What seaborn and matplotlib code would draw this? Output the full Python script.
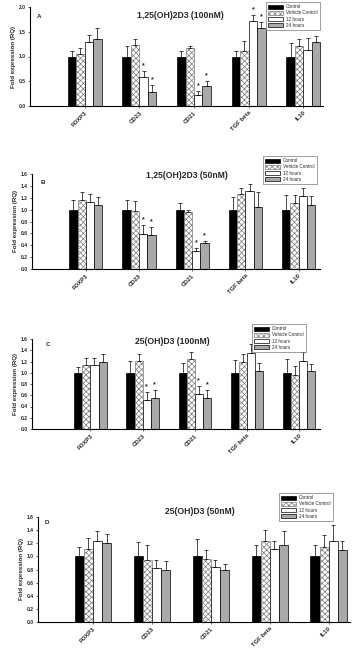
import numpy as np
import pandas as pd
import matplotlib
matplotlib.use('Agg')
import matplotlib.pyplot as plt
import seaborn as sns

genes = ['FOXP3', 'CD23', 'CD21', 'TGF beta', 'IL10']
groups = ['Control', 'Vehicle Control', '12 hours', '24 hours']

# rows = genes, columns = groups
a_mean = [[1.0, 1.05, 1.30, 1.35], [1.0, 1.23, 0.58, 0.28], [1.0, 1.17, 0.22, 0.40],
          [1.0, 1.12, 1.71, 1.58], [1.0, 1.21, 1.14, 1.29]]
a_err = [[0.11, 0.12, 0.13, 0.23], [0.21, 0.12, 0.13, 0.14], [0.11, 0.05, 0.08, 0.10],
         [0.11, 0.20, 0.13, 0.12], [0.27, 0.14, 0.24, 0.13]]
b_mean = [[1.0, 1.17, 1.13, 1.08], [1.0, 0.97, 0.59, 0.57], [1.0, 0.955, 0.31, 0.43],
          [1.0, 1.26, 1.31, 1.05], [1.0, 1.12, 1.23, 1.08]]
b_err = [[0.16, 0.12, 0.13, 0.14], [0.17, 0.17, 0.15, 0.14], [0.12, 0.035, 0.04, 0.04],
         [0.22, 0.11, 0.13, 0.25], [0.25, 0.12, 0.14, 0.15]]
c_mean = [[1.0, 1.13, 1.13, 1.19], [1.0, 1.21, 0.51, 0.56], [1.0, 1.24, 0.62, 0.55],
          [1.0, 1.20, 1.355, 1.04], [1.0, 0.96, 1.21, 1.03]]
c_err = [[0.11, 0.14, 0.14, 0.14], [0.21, 0.13, 0.15, 0.13], [0.18, 0.13, 0.14, 0.14],
         [0.22, 0.13, 0.165, 0.13], [0.24, 0.16, 0.16, 0.12]]
d_mean = [[1.0, 1.12, 1.23, 1.21], [1.0, 0.94, 0.82, 0.79], [1.0, 0.96, 0.84, 0.80],
          [1.0, 1.24, 1.11, 1.17], [1.0, 1.15, 1.24, 1.09]]
d_err = [[0.15, 0.16, 0.15, 0.13], [0.22, 0.23, 0.13, 0.14], [0.27, 0.13, 0.11, 0.09],
         [0.17, 0.16, 0.13, 0.21], [0.17, 0.18, 0.24, 0.14]]

# significant (gene, group) pairs
a_sig = [('CD23', '12 hours'), ('CD23', '24 hours'), ('CD21', '12 hours'), ('CD21', '24 hours'),
         ('TGF beta', '12 hours'), ('TGF beta', '24 hours')]
b_sig = a_sig[:4]
c_sig = a_sig[:4]
d_sig = []

titles = ['1,25(OH)2D3 (100nM)', '1,25(OH)2D3 (50nM)', '25(OH)D3 (100nM)', '25(OH)D3 (50nM)']
letters = ['A', 'B', 'C', 'D']

sns.set_style('white')
plt.rcParams['font.family'] = ['Liberation Sans', 'DejaVu Sans']
plt.rcParams['hatch.linewidth'] = 0.5

W, H = 354, 648
fig = plt.figure(figsize=(W / 100, H / 100), dpi=100)

def rect(l, t, r, b):
    return [l / W, 1 - b / H, (r - l) / W, (b - t) / H]

# pixel boxes: axes (l, t, r, b), xlim, title pos, letter pos, legend top-left
panels = [
    dict(mean=a_mean, err=a_err, sig=a_sig, box=(30, 7, 323, 106), xlim=(-1.0, 4.36),
         ymax=2.0, ystep=0.5, title=(180, 15), letter=(39, 16), leg=(266, 2)),
    dict(mean=b_mean, err=b_err, sig=b_sig, box=(32, 174, 320, 269), xlim=(-1.01, 4.4),
         ymax=1.6, ystep=0.2, title=(187, 175), letter=(43, 182), leg=(263, 156)),
    dict(mean=c_mean, err=c_err, sig=c_sig, box=(32, 339, 320, 429), xlim=(-1.12, 4.4),
         ymax=1.6, ystep=0.2, title=(172, 341), letter=(48, 344), leg=(252, 324)),
    dict(mean=d_mean, err=d_err, sig=d_sig, box=(38, 517, 350, 622), xlim=(-0.93, 4.36),
         ymax=1.6, ystep=0.2, title=(200, 512), letter=(47, 523), leg=(279, 493)),
]

palette = ['black', 'white', 'white', '#a9a9a9']

for i, p in enumerate(panels):
    ax = fig.add_axes(rect(*p['box']))
    rows = []
    for gi, g in enumerate(genes):
        for hi, h in enumerate(groups):
            rows.append({'gene': g, 'group': h, 'value': p['mean'][gi][hi], 'err': p['err'][gi][hi]})
    df = pd.DataFrame(rows)
    sns.barplot(data=df, x='gene', y='value', hue='group', order=genes, hue_order=groups,
                palette=palette, width=0.62, errorbar=None, edgecolor='black',
                linewidth=0.5, legend=False, ax=ax)
    bar_conts = list(ax.containers)
    for hi, cont in enumerate(bar_conts):
        xs, ys, es = [], [], []
        for gi, bar in enumerate(cont.patches):
            if hi == 1:
                bar.set_hatch('xxxxxx')
                bar.set_edgecolor('#7a7a7a')
            x = bar.get_x() + bar.get_width() / 2
            y = bar.get_height()
            e = p['err'][gi][hi]
            xs.append(x); ys.append(y); es.append(e)
            if (genes[gi], groups[hi]) in p['sig']:
                ax.text(x, y + e + 0.02 * p['ymax'], '*', ha='center', va='bottom',
                        fontsize=5, fontweight='bold')
        ax.errorbar(xs, ys, yerr=[np.zeros(len(es)), es], fmt='none', ecolor='black',
                    elinewidth=0.5, capsize=1.3, capthick=0.5)
    ax.set_xlim(*p['xlim'])
    ax.set_ylim(0, p['ymax'])
    ticks = np.arange(0, p['ymax'] + 0.001, p['ystep'])
    ax.set_yticks(ticks)
    ax.set_yticklabels(['%.1f' % v for v in ticks], fontsize=3.6, fontweight='bold')
    ax.set_xticks(range(len(genes)))
    ax.set_xticklabels(genes, rotation=45, ha='right', rotation_mode='anchor',
                       fontsize=4.3, fontweight='bold')
    ax.tick_params(axis='both', length=1.5, width=0.5, pad=1.5, direction='out',
                   bottom=True, left=True)
    ax.set_xlabel('')
    ax.set_ylabel('Fold expression (RQ)', fontsize=4.4, fontweight='bold', labelpad=2)
    sns.despine(ax=ax)
    for s in ['left', 'bottom']:
        ax.spines[s].set_linewidth(0.8)
        ax.spines[s].set_color('black')

    tx, ty = p['title']
    fig.text(tx / W, 1 - ty / H, titles[i], ha='center', va='center', fontsize=6.2,
             fontweight='bold')
    lx, ly = p['letter']
    fig.text(lx / W, 1 - ly / H, letters[i], ha='center', va='center', fontsize=4.5,
             fontweight='bold')

    handles = [bar_conts[k].patches[0] for k in range(len(groups))]
    gx, gy = p['leg']
    leg = ax.legend(handles, groups, loc='upper left', bbox_to_anchor=(gx / W, 1 - gy / H),
                    bbox_transform=fig.transFigure, fontsize=3.3, frameon=True,
                    fancybox=False, handlelength=3.2, handleheight=0.9, labelspacing=0.25,
                    borderpad=0.5, handletextpad=0.6, borderaxespad=0)
    leg.get_frame().set_edgecolor('#555555')
    leg.get_frame().set_linewidth(0.5)

fig.savefig('out.png', dpi=100)
